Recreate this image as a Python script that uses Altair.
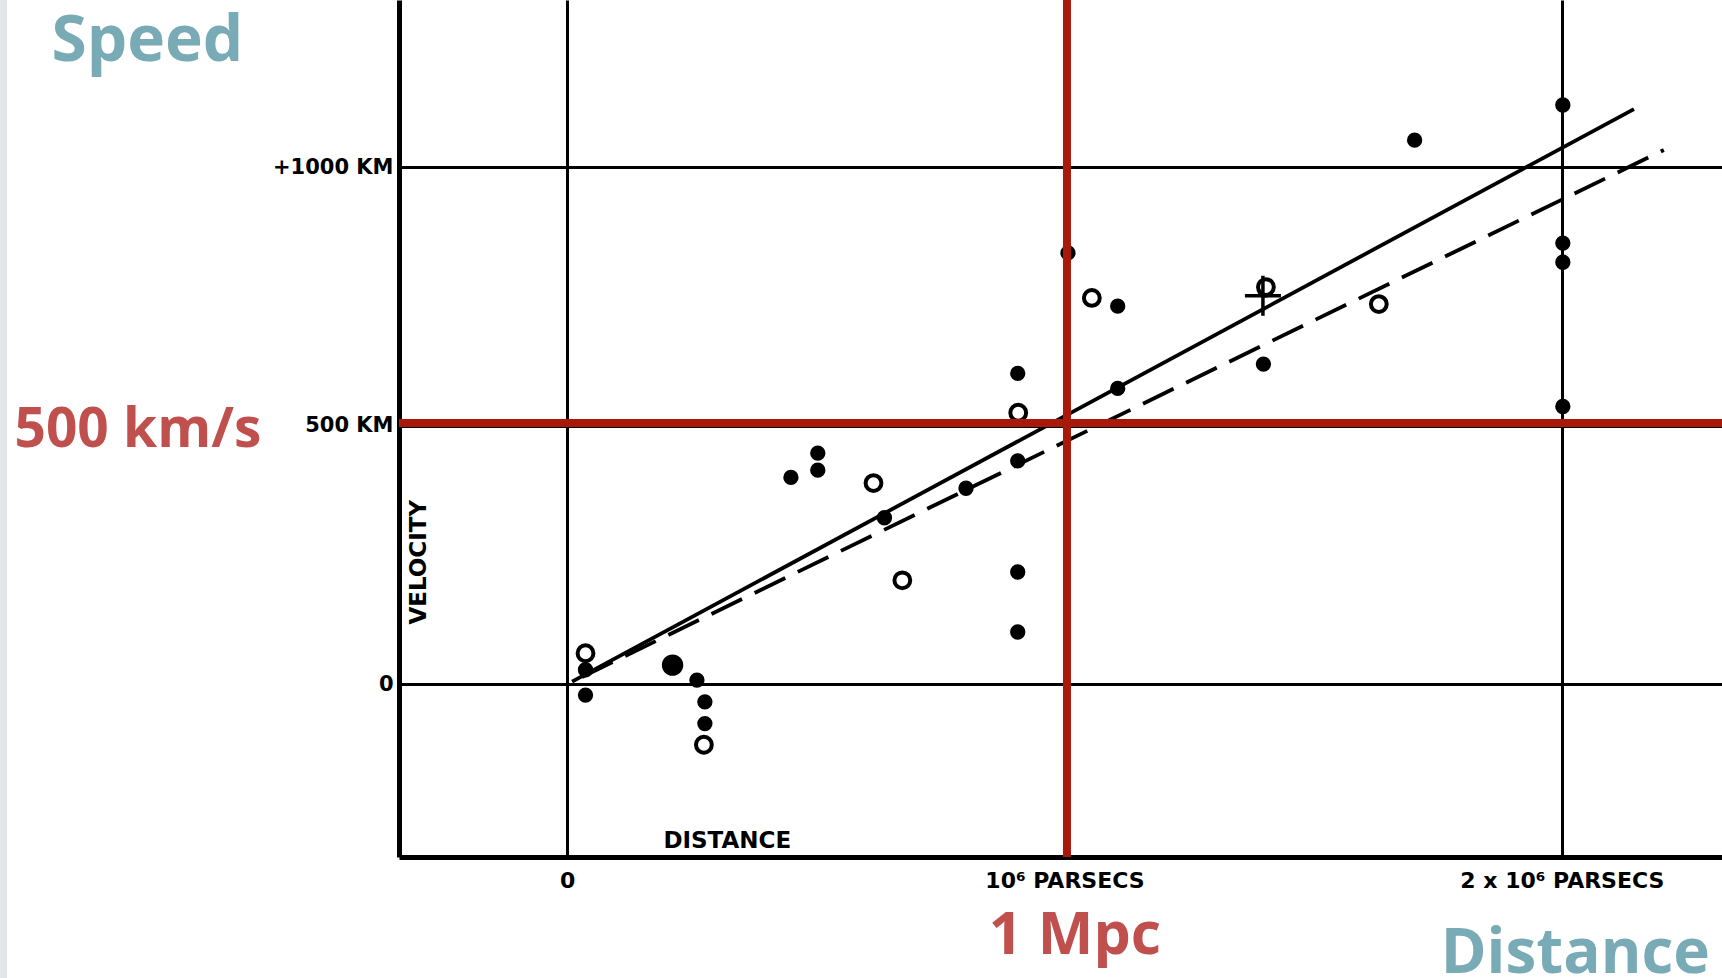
import altair as alt
import pandas as pd

# ---- data (x: millions of parsecs, y: km/s) ----
filled_x = [0.037, 0.037, 0.261, 0.277, 0.277, 0.450, 0.504, 0.504, 0.638, 0.802,
            0.906, 0.906, 0.906, 0.906, 1.007, 1.107, 1.107, 1.400, 1.403, 1.704,
            2.002, 2.002, 2.002, 2.002]
filled_y = [28, -21, 8, -34, -76, 400, 447, 414, 322, 379,
            601, 432, 217, 101, 834, 731, 572, 619, 762, 1052,
            1120, 853, 816, 537]
big_x = [0.212]
big_y = [37]
open_x = [0.037, 0.275, 0.616, 0.674, 0.907, 1.055, 1.405, 1.632]
open_y = [60, -117, 389, 201, 525, 747, 768, 735]
cross_x = [1.399]
cross_y = [751]

solid_x = [0.01, 2.145]
solid_y = [5, 1112]
dash_x = [0.03, 2.205]
dash_y = [14, 1033]

x_ticks = [0, 1, 2]
x_tick_labels = ["0", "10⁶ PARSECS", "2 x 10⁶ PARSECS"]
y_ticks = [0, 500, 1000]
y_tick_labels = ["0", "500 KM", "+1000 KM"]
x_domain = [-0.338, 2.322]
y_domain = [-334, 1323]

red_x = [1.005]
red_y = [505]

ann_text = ["Speed", "500 km/s", "1 Mpc", "Distance"]
ann_x = [-0.844, -0.863, 1.021, 2.027]
ann_y = [1205, 458, -522, -559]
ann_size = [64, 55, 59, 62]
ann_color = ["#78abb5", "#c0504d", "#c0504d", "#78abb5"]

paper_text = ["VELOCITY", "DISTANCE"]
paper_x = [-0.297, 0.322]
paper_y = [236, -304]
paper_angle = [270, 0]

strip_x = [-1.14]
strip_x2 = [-1.126]

# ---- helpers ----
def label_expr(vals, labels):
    expr = "'" + labels[-1] + "'"
    for v, l in reversed(list(zip(vals[:-1], labels[:-1]))):
        expr = f"datum.value == {v} ? '{l}' : " + expr
    return expr

xs = alt.Scale(domain=x_domain, nice=False, zero=False)
ys = alt.Scale(domain=y_domain, nice=False, zero=False)

x_axis = alt.Axis(values=x_ticks, labelExpr=label_expr(x_ticks, x_tick_labels),
                  grid=True, gridColor="black", gridWidth=3, gridOpacity=1,
                  domainColor="black", domainWidth=5, ticks=False,
                  labelFont="DejaVu Sans", labelFontWeight="bold", labelFontSize=22,
                  labelColor="black", labelPadding=13, labelAngle=0, labelLimit=600,
                  labelFlush=False, labelOverlap=False, title=None)
y_axis = alt.Axis(values=y_ticks, labelExpr=label_expr(y_ticks, y_tick_labels),
                  grid=True, gridColor="black", gridWidth=3, gridOpacity=1,
                  domainColor="black", domainWidth=5, ticks=False,
                  labelFont="DejaVu Sans", labelFontWeight="bold", labelFontSize=21,
                  labelColor="black", labelPadding=6, labelBaseline="middle", labelLimit=600,
                  labelFlush=False, labelOverlap=False, title=None)

filled_df = pd.DataFrame({"x": filled_x, "y": filled_y})
big_df = pd.DataFrame({"x": big_x, "y": big_y})
open_df = pd.DataFrame({"x": open_x, "y": open_y})
cross_df = pd.DataFrame({"x": cross_x, "y": cross_y})
solid_df = pd.DataFrame({"x": solid_x, "y": solid_y})
dash_df = pd.DataFrame({"x": dash_x, "y": dash_y})
ann_df = pd.DataFrame({"x": ann_x, "y": ann_y, "t": ann_text, "s": ann_size, "c": ann_color})
paper_df = pd.DataFrame({"x": paper_x, "y": paper_y, "t": paper_text, "a": paper_angle})
redv_df = pd.DataFrame({"x": red_x, "y": [y_domain[0]], "y2": [y_domain[1]]})
redh_df = pd.DataFrame({"y": red_y, "x": [x_domain[0]], "x2": [x_domain[1]]})
strip_df = pd.DataFrame({"x": strip_x, "x2": strip_x2, "y": [-600], "y2": [y_domain[1]]})

base_axes = alt.Chart(solid_df).mark_line(color="black", strokeWidth=3.8).encode(
    x=alt.X("x:Q", scale=xs, axis=x_axis),
    y=alt.Y("y:Q", scale=ys, axis=y_axis),
)

dashed = alt.Chart(dash_df).mark_line(color="black", strokeWidth=3.8, strokeDash=[34, 14]).encode(
    x=alt.X("x:Q", scale=xs), y=alt.Y("y:Q", scale=ys))

filled = alt.Chart(filled_df).mark_point(filled=True, color="black", size=235, opacity=1).encode(
    x=alt.X("x:Q", scale=xs), y=alt.Y("y:Q", scale=ys))
big = alt.Chart(big_df).mark_point(filled=True, color="black", size=460, opacity=1).encode(
    x=alt.X("x:Q", scale=xs), y=alt.Y("y:Q", scale=ys))
opens = alt.Chart(open_df).mark_point(filled=False, color="black", fill="white", fillOpacity=1,
                                      size=250, strokeWidth=4, opacity=1).encode(
    x=alt.X("x:Q", scale=xs), y=alt.Y("y:Q", scale=ys))
cross = alt.Chart(cross_df).mark_point(shape="M-0.9,0L0.9,0M0,-1L0,1", filled=False, color="black",
                                       size=1600, strokeWidth=3.5, opacity=1).encode(
    x=alt.X("x:Q", scale=xs), y=alt.Y("y:Q", scale=ys))

red_v = alt.Chart(redv_df).mark_rule(color="#a8190a", strokeWidth=8).encode(
    x=alt.X("x:Q", scale=xs), y=alt.Y("y:Q", scale=ys), y2="y2:Q")
red_h = alt.Chart(redh_df).mark_rule(color="#a8190a", strokeWidth=8).encode(
    y=alt.Y("y:Q", scale=ys), x=alt.X("x:Q", scale=xs), x2="x2:Q")

strip = alt.Chart(strip_df).mark_rect(color="#e2e6eb").encode(
    x=alt.X("x:Q", scale=xs), x2="x2:Q", y=alt.Y("y:Q", scale=ys), y2="y2:Q")

ann = alt.Chart(ann_df).mark_text(font="Open Sans", fontWeight="bold", align="center",
                                  baseline="alphabetic").encode(
    x=alt.X("x:Q", scale=xs), y=alt.Y("y:Q", scale=ys), text="t:N",
    size=alt.Size("s:Q", scale=None, legend=None),
    color=alt.Color("c:N", scale=None, legend=None))

paper = alt.Chart(paper_df).mark_text(font="DejaVu Sans", fontWeight="bold", fontSize=23,
                                      align="center", baseline="middle", color="black").encode(
    x=alt.X("x:Q", scale=xs), y=alt.Y("y:Q", scale=ys), text="t:N",
    angle=alt.Angle("a:Q", scale=None))

chart = alt.layer(strip, base_axes, dashed, filled, big, opens, cross, paper, red_v, red_h, ann).properties(
    width=1323, height=857,
    padding={"left": 399, "top": 0, "right": 0, "bottom": 121},
    autosize=alt.AutoSizeParams(type="none"),
    background="white",
).configure_view(strokeWidth=0)

chart.save("out.html", embed_options={"renderer": "svg", "actions": False})
